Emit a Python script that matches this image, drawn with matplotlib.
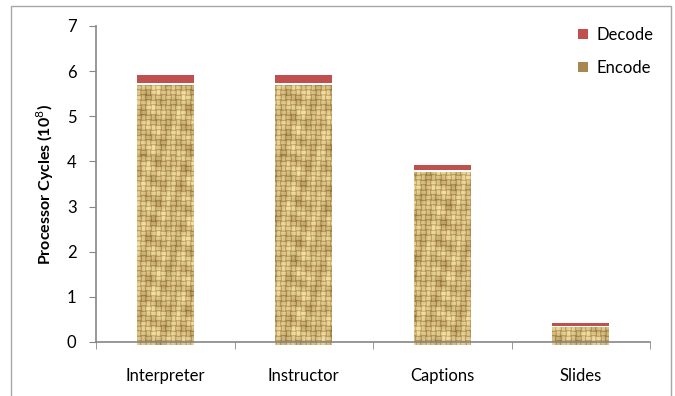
import numpy as np
import matplotlib
matplotlib.use("Agg")
import matplotlib.pyplot as plt
from matplotlib.patches import Rectangle, Patch

# Processor cycles (in units of 10^8) per workload
categories = ["Interpreter", "Instructor", "Captions", "Slides"]
encode = [5.70, 5.70, 3.77, 0.33]
decode = [0.19, 0.19, 0.13, 0.05]

DECODE_RED = "#C0504D"
AXIS_GRAY = "#868686"
FONT = "Lato"

plt.rcParams["font.family"] = [FONT, "DejaVu Sans"]

W, H, DPI = 675, 396, 100
fig = plt.figure(figsize=(W / DPI, H / DPI), dpi=DPI)
ax_l, ax_r, ax_t, ax_b = 96, 650, 26, 342
ax = fig.add_axes([ax_l / W, 1 - ax_b / H, (ax_r - ax_l) / W, (ax_b - ax_t) / H])

x = np.arange(len(categories))
width = 0.41
xlim = (-0.5, len(categories) - 0.5)
ylim = (0, 7)
ax.set_xlim(*xlim)
ax.set_ylim(*ylim)


def burlap_texture(h, w, cell=5):
    """Deterministic basket-weave texture in tan/brown tones."""
    yy, xx = np.mgrid[0:h, 0:w]
    cy, cx = yy // cell, xx // cell
    horiz = ((cy + cx) % 2) == 0
    across = np.where(horiz, (yy % cell) / (cell - 1), (xx % cell) / (cell - 1))
    along = np.where(horiz, (xx % cell) / (cell - 1), (yy % cell) / (cell - 1))
    # bright strand centres, dark gaps between strands
    profile = np.where(np.abs(across - 0.5) < 0.3, 1.0, 0.25)
    profile = profile - 0.25 * (np.abs(along - 0.5) > 0.45)
    # tonal variation across the cloth
    mod = (0.5 * np.sin(xx * 0.41 + yy * 0.13) + 0.5 * np.sin(yy * 0.31 - xx * 0.09)
           + 0.8 * np.sin((cx * 7 + cy * 13) * 0.9) * np.cos(cx * 1.3 - cy * 0.7))
    light = np.clip(0.42 + 0.40 * profile + 0.15 * mod, 0, 1)
    dark = np.array([125, 88, 30]) / 255.0
    bright = np.array([243, 222, 160]) / 255.0
    img = dark[None, None, :] + (bright - dark)[None, None, :] * light[..., None]
    return np.clip(img, 0, 1)


px_unit = (ylim[1] - ylim[0]) / (ax_b - ax_t)   # data units per pixel
below = 3 * px_unit                               # bars run just past the axis
tex = burlap_texture(ax_b - ax_t + 3, ax_r - ax_l)

for xi, enc, dec in zip(x, encode, decode):
    bar = ax.bar(xi, enc + below, width=width, bottom=-below,
                 color="none", edgecolor="none", zorder=2)[0]
    im = ax.imshow(tex, extent=(xlim[0], xlim[1], ylim[0] - below, ylim[1]),
                   aspect="auto", origin="upper", zorder=2,
                   interpolation="nearest")
    # a Rectangle clip path becomes the image's clip box
    im.set_clip_path(bar)
    ax.bar(xi, dec, width=width, bottom=enc + 0.03, color=DECODE_RED,
           edgecolor="none", zorder=3)

ax.set_xlim(*xlim)
ax.set_ylim(*ylim)

# axes styling
for side in ("top", "right"):
    ax.spines[side].set_visible(False)
for side in ("left", "bottom"):
    ax.spines[side].set_color(AXIS_GRAY)
    ax.spines[side].set_linewidth(1.2)
ax.spines["bottom"].set_zorder(4)

ax.set_yticks(range(0, 8))
ax.tick_params(axis="y", direction="out", length=5, color=AXIS_GRAY,
               labelsize=12, pad=9)
ax.set_xticks(x)
ax.set_xticklabels(categories)
ax.set_xticks(np.arange(-0.5, len(categories)), minor=True)
ax.tick_params(axis="x", which="major", length=0, labelsize=12, pad=19)
ax.tick_params(axis="x", which="minor", direction="out", length=5,
               color=AXIS_GRAY)

ax.set_ylabel("Processor Cycles (10$^{8}$)", fontsize=11.5, fontweight="bold",
              labelpad=8)

# legend
handles = [Patch(facecolor=DECODE_RED, edgecolor="none", label="Decode"),
           Patch(facecolor="#A88850", edgecolor="none", label="Encode")]
fig.legend(handles=handles, loc="upper left",
           bbox_to_anchor=(563 / W, 1 - 12 / H), frameon=False,
           fontsize=12, handlelength=0.6, handleheight=0.6,
           handletextpad=0.5, labelspacing=1.0)

# outer chart border
fig.add_artist(Rectangle((11 / W, -0.05), (671 - 11) / W, 1.05 - 6 / H,
                         transform=fig.transFigure, fill=False,
                         edgecolor="#A6A6A6", linewidth=1.0))

fig.savefig("out.png", dpi=DPI)
